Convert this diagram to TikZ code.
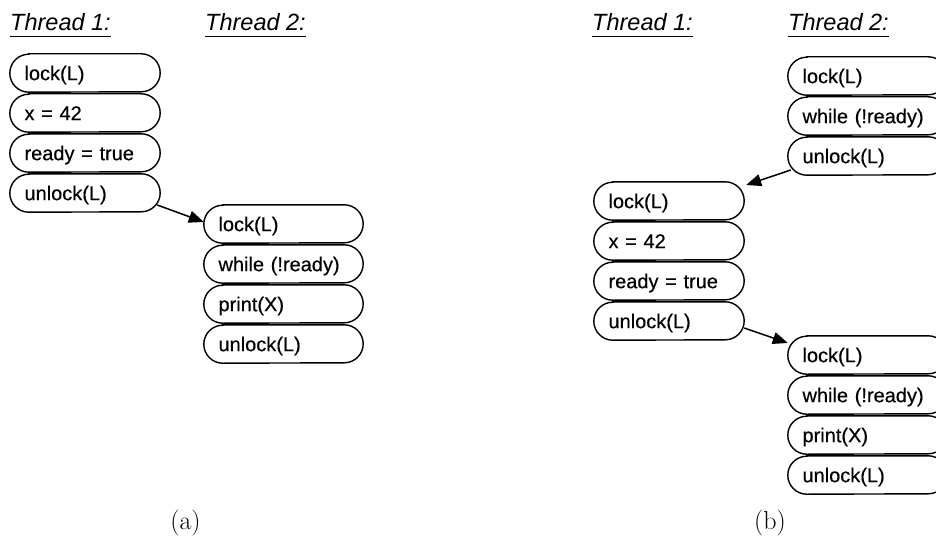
\documentclass[tikz,border=0pt]{standalone}
\usepackage{fontspec}
\newfontfamily\helv{Liberation Sans}[FakeBold=0.4]
\newfontfamily\helvplain{Liberation Sans}
\usetikzlibrary{arrows.meta}

\tikzset{
  pillbox/.style={font=\helv\fontsize{20}{24}\selectfont, inner xsep=14.5pt,
    inner ysep=0pt, minimum height=38pt, text height=14.4pt, text depth=0pt,
    align=left},
  narrowpill/.style={pillbox, text width=121pt},
  widepill/.style={pillbox, text width=130pt},
  pilloutline/.style={line width=1.4pt},
  threadlabel/.style={font=\helvplain\itshape\fontsize{23.5}{27}\selectfont,
    inner sep=0pt, anchor=base west},
  uline/.style={line width=1.3pt},
  link/.style={line width=1.5pt, -{Triangle[length=15pt,width=12pt]}},
  caption/.style={font=\fontsize{26}{30}\selectfont, anchor=base}
}

% outline of a statement: straight top/bottom, round ends
\newcommand\pillpath[1]{%
  \draw[pilloutline] ([xshift=19pt]#1.north west) -- ([xshift=-19pt]#1.north east)
    arc[start angle=90, end angle=-90, x radius=19pt, y radius=19pt]
    -- ([xshift=19pt]#1.south west)
    arc[start angle=270, end angle=90, x radius=19pt, y radius=19pt] -- cycle;}

\begin{document}
\begin{tikzpicture}[x=1pt,y=1pt]
\useasboundingbox (0,0) rectangle (936,542);
\clip (0,0) rectangle (936,542);

% ---------- (a) ----------
\node[threadlabel] (at1) at (10,511) {Thread 1:};
\node[threadlabel] (at2) at (205,511) {Thread 2:};

\foreach \n/\y/\t in {a1/469/lock(L), a2/429/x = 42, a3/389/ready = true, a4/349/unlock(L)}
  \node[narrowpill] (\n) at (85,\y) {\t};
\foreach \n/\y/\t in {a5/318/lock(L), a6/278/while (!ready), a7/238/print(X), a8/198/unlock(L)}
  \node[widepill] (\n) at (283.5,\y) {\t};

\draw[link] ([xshift=-3pt,yshift=-12pt]a4.east) -- ([yshift=2pt]a5.west);

\node[caption] (capa) at (185.5,12.5) {(a)};

% ---------- (b) ----------
\node[threadlabel] (bt1) at (592,511) {Thread 1:};
\node[threadlabel] (bt2) at (788,511) {Thread 2:};

\foreach \n/\y/\t in {b1/466/lock(L), b2/426/while (!ready), b3/386/unlock(L)}
  \node[widepill] (\n) at (867.5,\y) {\t};
\foreach \n/\y/\t in {b4/341/lock(L), b5/301/x = 42, b6/261/ready = true, b7/221/unlock(L)}
  \node[narrowpill] (\n) at (669,\y) {\t};
\foreach \n/\y/\t in {b8/187/lock(L), b9/147/while (!ready), b10/107/print(X), b11/67/unlock(L)}
  \node[widepill] (\n) at (867.5,\y) {\t};

\draw[link] ([xshift=3pt,yshift=-14pt]b3.west) -- ([xshift=2pt,yshift=16pt]b4.east);
\draw[link] ([yshift=-7pt]b7.east) -- ([yshift=12pt]b8.west);

\node[caption] (capb) at (770,12.5) {(b)};

% outlines and underlines
\foreach \n in {a1,a2,a3,a4,a5,a6,a7,a8,b1,b2,b3,b4,b5,b6,b7,b8,b9,b10,b11}
  \pillpath{\n};
\foreach \n in {at1,at2,bt1,bt2}
  \draw[uline] ([yshift=-5.7pt]\n.base west) -- ([yshift=-5.7pt]\n.base east);
\end{tikzpicture}
\end{document}
